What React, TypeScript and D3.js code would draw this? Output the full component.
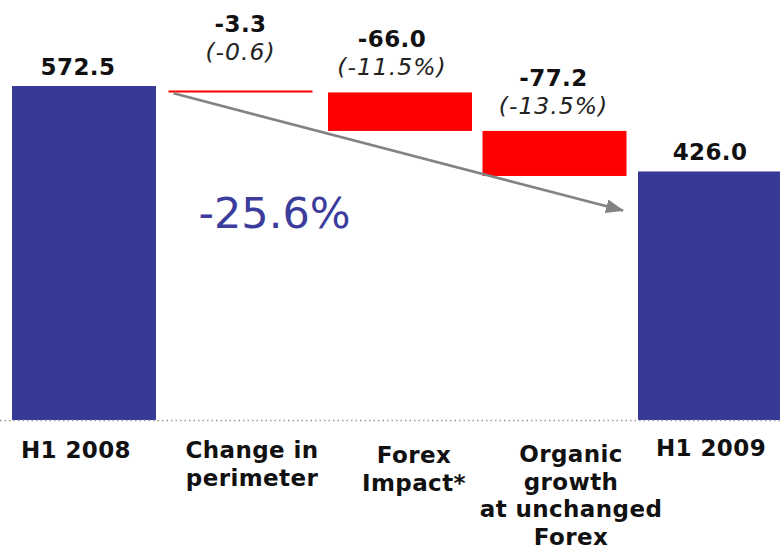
import React from "react";
import * as d3 from "d3";

// Revenue bridge H1 2008 -> H1 2009 (EUR m)
const categories = ["H1 2008", "Change in perimeter", "Forex Impact*", "Organic growth at unchanged Forex", "H1 2009"];
const categoryLines = [["H1 2008"], ["Change in", "perimeter"], ["Forex", "Impact*"], ["Organic", "growth", "at unchanged", "Forex"], ["H1 2009"]];
const values = [572.5, -3.3, -66.0, -77.2, 426.0];
const kinds = ["total", "delta", "delta", "delta", "total"];
const shareLabels = ["", "(-0.6)", "(-11.5%)", "(-13.5%)", ""];
const totalChangeLabel = "-25.6%";

// Layout tweaks (pixels)
const W = 780;
const H = 550;
const baseY = 420;
const stepGap = 4.5; // visual drop of the step bars below the running total
const barDx = [0, 0, 3, 1, 0];
const valueDx = [-6, 0, -8, -1, 0];
const labelLift = [0, 14, 0, 0, 0];
const axisDx = [-8, 11.5, 17, 17.5, 1];
const axisBaseline = [458, 458, 463, 462, 456];
const lineStep = 27.5;

const BLUE = "#383896";
const RED = "#ff0000";
const GREY = "#838383";
const FONT = "'DejaVu Sans', Verdana, sans-serif";

// one decimal, plain hyphen for negatives
const fmt = (v: number) => d3.format(".1f")(v).replace("\u2212", "-");

export default function App() {
  const x = d3.scaleBand<string>().domain(categories).range([12, 782]).paddingInner(0.08).paddingOuter(0);
  const y = d3.scaleLinear().domain([0, 572.5]).range([baseY, 86]);

  // running totals for the step bars
  let running = 0;
  const bars = values.map((v, i) => {
    const cat = categories[i];
    const left = (x(cat) as number) + barDx[i];
    if (kinds[i] === "total") {
      running = v;
      return { cat, i, v, left, top: y(v), bottom: y(0), kind: "total" };
    }
    const start = running;
    const end = running + v;
    running = end;
    return { cat, i, v, left, top: y(start) + stepGap, bottom: y(end) + stepGap, kind: "delta" };
  });

  const bw = x.bandwidth();
  const arrowStart: [number, number] = [(x(categories[1]) as number) + 5, y(560)];
  const arrowEnd: [number, number] = [(x(categories[4]) as number) - 15, y(359)];

  return (
    <svg width={W} height={H} style={{ position: "absolute", left: 0, top: 0, background: "#fff" }}>
      <defs>
        <marker id="arrowHead" viewBox="0 0 18 14" refX="17" refY="7" markerWidth="18" markerHeight="14" markerUnits="userSpaceOnUse" orient="auto">
          <path d="M0,0 L18,7 L0,14 Z" fill={GREY} />
        </marker>
      </defs>

      {/* bars */}
      {bars.map((b) => (
        <rect
          key={b.cat}
          x={b.left}
          y={b.top}
          width={bw}
          height={Math.max(2, b.bottom - b.top)}
          fill={b.kind === "total" ? BLUE : RED}
        />
      ))}

      {/* dotted baseline */}
      <line x1={0} x2={W} y1={baseY + 0.5} y2={baseY + 0.5} stroke="#9a9a9a" strokeWidth={1.5} strokeDasharray="1.5 3" />

      {/* overall trend arrow */}
      <line
        x1={arrowStart[0]}
        y1={arrowStart[1]}
        x2={arrowEnd[0]}
        y2={arrowEnd[1]}
        stroke={GREY}
        strokeWidth={2.6}
        markerEnd="url(#arrowHead)"
      />
      <text x={(x(categories[1]) as number) + 30} y={228} fontFamily={FONT} fontSize={43} fill="#3c3c9c">
        {totalChangeLabel}
      </text>

      {/* value labels */}
      {bars.map((b) => {
        const cx = b.left + bw / 2 + valueDx[b.i];
        if (b.kind === "total") {
          return (
            <text key={"v" + b.cat} x={cx} y={b.top - 11} textAnchor="middle" fontFamily={FONT} fontWeight="bold" fontSize={23} letterSpacing={0.4} fill="#111">
              {fmt(b.v)}
            </text>
          );
        }
        const shareY = b.top - 17 - labelLift[b.i];
        return (
          <g key={"v" + b.cat}>
            <text x={cx} y={shareY - 28} textAnchor="middle" fontFamily={FONT} fontWeight="bold" fontSize={23} letterSpacing={0.4} fill="#111">
              {fmt(b.v)}
            </text>
            <text x={cx} y={shareY} textAnchor="middle" fontFamily={FONT} fontStyle="italic" fontSize={23.5} letterSpacing={1} fill="#222">
              {shareLabels[b.i]}
            </text>
          </g>
        );
      })}

      {/* category labels */}
      {categories.map((c, i) => {
        const cx = (x(c) as number) + bw / 2 + axisDx[i];
        return (
          <text key={"c" + c} textAnchor="middle" fontFamily={FONT} fontWeight="bold" fontSize={23} letterSpacing={0.4} fill="#111">
            {categoryLines[i].map((line, j) => (
              <tspan key={j} x={cx} y={axisBaseline[i] + j * lineStep}>
                {line}
              </tspan>
            ))}
          </text>
        );
      })}
    </svg>
  );
}
